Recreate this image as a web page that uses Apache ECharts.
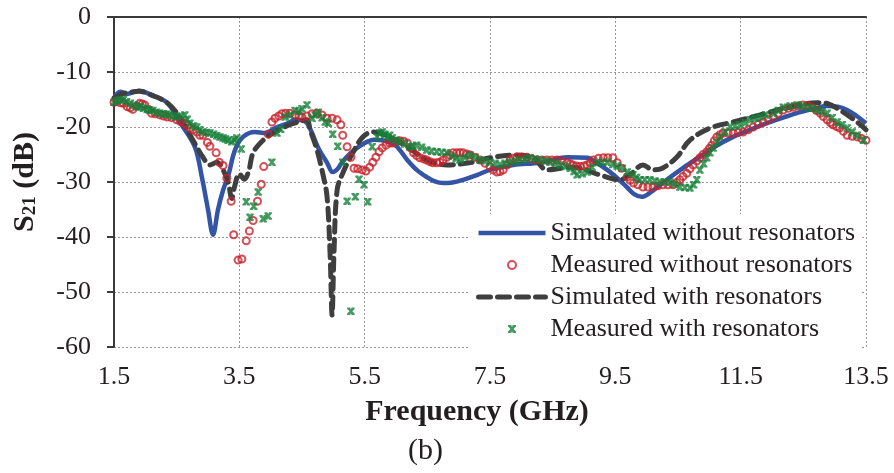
<!DOCTYPE html>
<html>
<head>
<meta charset="utf-8">
<script src="https://cdn.jsdelivr.net/npm/echarts@6/dist/echarts.min.js"></script>
<style>
  html, body { margin: 0; padding: 0; background: #fff; }
  #chart { width: 894px; height: 473px; }
</style>
</head>
<body>
<div id="chart"></div>
<script>
// S21 transmission data (frequency in GHz, magnitude in dB)
const simNoResFreq = [1.5,1.6,1.7,1.9,2.1,2.35,2.55,2.79,2.9,3.0,3.08,3.16,3.24,3.32,3.43,3.56,3.75,3.91,4.07,4.28,4.39,4.5,4.58,4.66,4.76,4.9,4.99,5.07,5.14,5.3,5.5,5.65,5.78,5.99,6.18,6.33,6.49,6.62,6.75,6.9,7.07,7.3,7.5,7.87,8.3,8.73,9.05,9.2,9.37,9.55,9.69,9.8,9.92,10.05,10.32,10.6,10.85,11.1,11.38,11.65,11.92,12.2,12.45,12.7,12.88,13.05,13.2,13.35,13.5];
const simNoResDb = [-14.7,-13.6,-14.0,-13.4,-14.2,-15.6,-19.1,-23.6,-29.0,-35.0,-39.6,-35.0,-31.5,-29.0,-24.2,-21.8,-20.9,-21.1,-20.2,-19.3,-18.7,-18.8,-19.3,-21.1,-23.8,-26.5,-28.2,-27.6,-26.4,-24.5,-22.9,-22.3,-22.4,-23.3,-26.0,-27.8,-29.1,-29.9,-30.2,-30.1,-29.6,-28.7,-27.8,-26.9,-26.5,-25.5,-25.6,-26.5,-27.8,-29.5,-31.0,-32.2,-32.7,-32.0,-29.6,-27.3,-25.4,-23.5,-21.8,-20.5,-19.3,-18.2,-17.3,-16.6,-16.2,-16.3,-16.9,-18.0,-19.3];

const measNoResFreq = [1.5,1.55,1.6,1.65,1.71,1.76,1.8,1.86,1.91,1.95,1.99,2.05,2.1,2.16,2.23,2.29,2.35,2.42,2.5,2.56,2.63,2.67,2.71,2.76,2.82,2.87,2.92,2.99,3.03,3.13,3.18,3.24,3.3,3.37,3.41,3.48,3.54,3.61,3.66,3.72,3.79,3.85,3.89,3.96,4.02,4.07,4.13,4.18,4.24,4.31,4.39,4.45,4.5,4.58,4.66,4.74,4.82,4.9,4.98,5.06,5.12,5.15,5.22,5.28,5.33,5.39,5.46,5.52,5.58,5.63,5.68,5.73,5.78,5.84,5.9,5.95,6.01,6.06,6.12,6.18,6.23,6.28,6.33,6.38,6.44,6.49,6.54,6.59,6.65,6.7,6.75,6.81,6.86,6.91,6.97,7.02,7.07,7.13,7.18,7.26,7.34,7.42,7.5,7.55,7.61,7.66,7.71,7.77,7.82,7.87,7.93,8.01,8.09,8.17,8.25,8.33,8.41,8.49,8.57,8.65,8.73,8.78,8.82,8.88,8.94,9.0,9.05,9.1,9.15,9.23,9.31,9.38,9.46,9.53,9.6,9.69,9.74,9.79,9.86,9.94,10.02,10.1,10.18,10.26,10.34,10.42,10.48,10.53,10.58,10.64,10.69,10.74,10.8,10.85,10.9,10.96,11.0,11.04,11.08,11.12,11.17,11.22,11.3,11.38,11.46,11.54,11.62,11.7,11.78,11.86,11.94,12.02,12.1,12.18,12.26,12.34,12.42,12.49,12.57,12.65,12.71,12.77,12.82,12.88,12.93,12.97,13.03,13.08,13.14,13.2,13.28,13.36,13.43,13.5];
const measNoResDb = [-15.5,-15.3,-15.6,-15.7,-16.3,-16.5,-16.8,-16.2,-15.7,-15.8,-16.0,-16.8,-17.5,-17.6,-17.8,-18.0,-18.2,-18.3,-18.7,-19.0,-19.3,-19.7,-20.2,-20.5,-20.9,-21.5,-21.5,-22.8,-23.5,-24.7,-26.4,-27.0,-29.3,-33.5,-39.6,-44.2,-44.0,-40.7,-38.9,-37.0,-33.5,-30.4,-27.2,-21.3,-19.1,-18.4,-18.0,-17.6,-17.5,-17.5,-17.8,-17.9,-18.2,-18.0,-17.6,-17.5,-17.8,-18.4,-18.4,-18.7,-19.6,-21.5,-23.6,-25.5,-27.5,-27.6,-27.8,-28.0,-27.3,-26.4,-25.5,-24.5,-23.8,-23.3,-22.9,-22.9,-22.6,-22.5,-22.6,-22.9,-23.8,-24.7,-25.2,-25.6,-25.8,-26.0,-26.3,-26.5,-26.5,-26.4,-26.0,-25.5,-25.1,-24.7,-24.7,-24.7,-24.7,-24.9,-25.1,-25.5,-26.0,-26.6,-27.2,-27.8,-28.2,-28.1,-27.8,-26.9,-26.0,-25.7,-25.5,-25.5,-25.5,-25.8,-26.0,-26.0,-26.0,-26.0,-26.0,-26.2,-26.5,-26.7,-26.9,-27.1,-27.2,-27.1,-26.9,-26.5,-26.0,-25.7,-25.6,-25.6,-25.6,-26.5,-27.5,-29.1,-29.7,-30.2,-30.5,-30.9,-30.9,-30.9,-30.7,-30.5,-30.5,-30.5,-30.1,-29.6,-29.0,-28.4,-27.6,-26.9,-26.2,-25.6,-25.0,-24.5,-23.9,-23.3,-22.5,-21.8,-21.4,-21.1,-21.1,-21.1,-21.0,-20.9,-20.5,-20.0,-19.5,-19.1,-18.6,-18.2,-17.5,-16.9,-16.6,-16.4,-16.2,-16.0,-16.1,-16.5,-17.0,-17.5,-18.1,-18.7,-19.2,-19.6,-19.9,-20.2,-20.8,-21.5,-21.7,-21.8,-22.1,-22.4];

const simResFreq = [1.5,1.65,1.8,1.9,2.1,2.35,2.55,2.76,2.92,3.03,3.14,3.24,3.32,3.38,3.42,3.5,3.58,3.65,3.72,3.88,4.04,4.3,4.5,4.58,4.63,4.74,4.83,4.9,4.95,4.98,5.01,5.06,5.15,5.31,5.47,5.63,5.8,6.18,6.49,6.81,7.23,7.5,7.87,8.19,8.41,8.82,9.25,9.57,9.75,9.94,10.1,10.25,10.48,10.69,11.01,11.38,11.81,12.24,12.72,12.9,13.08,13.36,13.5];
const simResDb = [-14.7,-13.9,-13.6,-13.5,-14.2,-15.6,-18.2,-22.4,-25.5,-26.9,-26.4,-27.8,-30.0,-33.0,-31.0,-28.5,-29.5,-28.0,-24.7,-22.4,-21.1,-19.6,-18.9,-18.7,-20.5,-24.2,-28.4,-32.7,-43.6,-54.2,-43.0,-31.5,-28.4,-24.7,-21.8,-20.9,-21.3,-23.6,-26.0,-26.9,-26.4,-25.6,-25.1,-25.6,-27.8,-27.3,-28.7,-29.6,-28.5,-26.9,-27.8,-27.5,-25.5,-22.4,-20.2,-19.1,-17.8,-16.5,-15.6,-15.8,-16.9,-19.1,-20.5];

const measResFreq = [1.5,1.55,1.6,1.65,1.7,1.76,1.82,1.87,1.92,1.97,2.03,2.07,2.12,2.18,2.23,2.29,2.34,2.39,2.45,2.5,2.57,2.63,2.67,2.71,2.77,2.82,2.87,2.92,2.98,3.03,3.09,3.14,3.19,3.24,3.28,3.32,3.38,3.42,3.46,3.53,3.61,3.67,3.73,3.8,3.88,3.96,4.02,4.1,4.16,4.23,4.31,4.39,4.45,4.5,4.58,4.66,4.71,4.76,4.82,4.87,4.92,4.99,5.07,5.15,5.22,5.28,5.35,5.41,5.49,5.55,5.62,5.7,5.74,5.78,5.82,5.86,5.9,5.94,6.0,6.06,6.14,6.22,6.27,6.33,6.41,6.49,6.57,6.65,6.73,6.81,6.9,6.96,7.02,7.1,7.18,7.26,7.34,7.42,7.5,7.58,7.66,7.74,7.82,7.9,7.98,8.06,8.14,8.22,8.3,8.38,8.46,8.54,8.62,8.7,8.78,8.84,8.89,8.97,9.05,9.13,9.21,9.29,9.37,9.46,9.53,9.61,9.69,9.78,9.84,9.89,9.97,10.05,10.13,10.21,10.29,10.37,10.45,10.53,10.61,10.69,10.75,10.8,10.85,10.91,10.96,11.01,11.06,11.12,11.17,11.25,11.33,11.41,11.49,11.57,11.65,11.73,11.81,11.9,12.02,12.1,12.18,12.29,12.4,12.48,12.56,12.64,12.72,12.8,12.88,12.96,13.04,13.12,13.2,13.28,13.36,13.46];
const measResDb = [-15.5,-15.2,-15.1,-15.0,-15.4,-15.7,-16.0,-16.3,-16.3,-16.6,-16.8,-16.9,-17.0,-17.3,-17.5,-17.6,-17.7,-17.8,-18.0,-18.2,-18.0,-17.8,-18.6,-19.3,-19.8,-20.0,-20.5,-20.9,-21.0,-21.1,-21.3,-21.6,-21.8,-22.0,-22.2,-22.4,-22.7,-22.3,-22.0,-24.0,-33.6,-36.4,-34.4,-31.8,-36.7,-36.2,-26.4,-21.1,-20.4,-18.2,-17.8,-17.0,-17.2,-16.7,-16.0,-18.4,-17.8,-17.3,-18.3,-19.1,-19.3,-21.3,-23.5,-26.4,-33.5,-53.5,-32.7,-29.5,-30.5,-33.6,-23.6,-21.8,-21.1,-20.9,-21.3,-21.8,-21.5,-22.0,-22.4,-22.7,-23.1,-23.6,-23.5,-23.3,-23.7,-24.2,-24.4,-24.5,-24.6,-24.7,-25.3,-25.7,-26.0,-25.5,-25.1,-25.5,-26.0,-26.2,-26.4,-26.6,-26.9,-26.6,-26.4,-26.2,-26.0,-25.8,-25.6,-25.8,-26.0,-26.2,-26.4,-26.6,-26.9,-27.2,-27.5,-28.1,-28.7,-28.5,-28.2,-27.3,-26.5,-26.4,-26.4,-26.8,-27.1,-27.5,-28.2,-28.7,-29.2,-29.6,-29.6,-29.6,-29.8,-30.0,-30.0,-30.0,-30.4,-30.9,-31.0,-31.1,-30.5,-29.6,-27.8,-26.7,-25.6,-24.7,-23.8,-22.8,-21.8,-20.9,-20.0,-19.8,-19.6,-19.2,-18.7,-18.4,-18.2,-17.8,-17.5,-17.0,-16.4,-16.2,-16.0,-16.2,-16.4,-16.6,-16.9,-17.2,-17.5,-18.3,-19.1,-19.6,-20.2,-20.9,-21.5,-22.4];

const seriesNames = [
  'Simulated without resonators',
  'Measured without resonators',
  'Simulated with resonators',
  'Measured with resonators'
];

const FONT = "'Liberation Serif', 'Times New Roman', serif";
const TEXT = '#231f20';
const BLUE = '#3454a6';
const RED = '#c8222b';
const DARK = '#3f3f3f';
const GREEN = '#17803a';
const DASH = [12, 7];

function pairs(xs, ys) { return xs.map((x, i) => [x, ys[i]]); }

const chart = echarts.init(document.getElementById('chart'), null, { renderer: 'canvas' });

chart.setOption({
  animation: false,
  backgroundColor: '#fff',
  grid: { left: 114, right: 28, top: 17, bottom: 126, containLabel: false },
  xAxis: [
    {
      type: 'value', min: 1.5, max: 13.5, interval: 2, position: 'bottom',
      axisLine: { show: false, onZero: false },
      axisTick: { show: false },
      axisLabel: {
        fontFamily: FONT, fontSize: 26, color: TEXT, margin: 17,
        formatter: v => v.toFixed(1)
      },
      splitLine: { show: true, lineStyle: { color: '#999', width: 1, type: [2, 2] } },
      name: 'Frequency (GHz)', nameLocation: 'middle', nameGap: 50,
      nameTextStyle: { fontFamily: FONT, fontSize: 30, fontWeight: 'bold', color: TEXT, padding: [0, 26, 0, 0] }
    },
    {
      type: 'value', min: 1.5, max: 13.5, position: 'top',
      axisLine: { show: true, onZero: false, lineStyle: { color: '#3a3a3a', width: 2 } },
      axisTick: { show: false }, axisLabel: { show: false }, splitLine: { show: false }
    }
  ],
  yAxis: {
    type: 'value', min: -60, max: 0, interval: 10,
    axisLine: { show: true, onZero: false, lineStyle: { color: '#3a3a3a', width: 2 } },
    axisTick: { show: true, inside: false, length: 7, lineStyle: { color: '#3a3a3a', width: 2 } },
    axisLabel: { fontFamily: FONT, fontSize: 26, color: TEXT, margin: 23 },
    splitLine: { show: true, lineStyle: { color: '#999', width: 1, type: [2, 2] } },
    name: '{b|S}{s|21}{b| (dB)}', nameLocation: 'middle', nameGap: 74, nameRotate: 90,
    nameTextStyle: {
      rich: {
        b: { fontFamily: FONT, fontSize: 30, fontWeight: 'bold', color: TEXT, lineHeight: 32, verticalAlign: 'bottom' },
        s: { fontFamily: FONT, fontSize: 19, fontWeight: 'bold', color: TEXT, lineHeight: 16, verticalAlign: 'bottom' }
      }
    }
  },
  legend: {
    orient: 'vertical', left: 470, top: 214,
    itemWidth: 67, itemHeight: 8, itemGap: 6,
    padding: [6, 6, 6, 6], backgroundColor: '#fff',
    textStyle: { fontFamily: FONT, fontSize: 26, color: TEXT },
    data: [
      { name: seriesNames[0], itemStyle: { opacity: 0 }, lineStyle: { color: BLUE, width: 4.5 } },
      { name: seriesNames[1] },
      { name: seriesNames[2], itemStyle: { opacity: 0 }, lineStyle: { color: DARK, width: 5, type: DASH, cap: 'round' } },
      { name: seriesNames[3] }
    ]
  },
  graphic: [
    { type: 'text', left: 408, top: 436, style: { text: '(b)', font: '30px ' + FONT, fill: TEXT } }
  ],
  series: [
    {
      name: seriesNames[0], type: 'line', xAxisIndex: 0, smooth: 0.35, symbol: 'none', z: 3,
      lineStyle: { color: BLUE, width: 4.5 },
      itemStyle: { color: BLUE },
      data: pairs(simNoResFreq, simNoResDb)
    },
    {
      name: seriesNames[1], type: 'scatter', xAxisIndex: 0, symbol: 'circle', symbolSize: 7, z: 4,
      itemStyle: { color: 'rgba(255,255,255,0)', borderColor: RED, borderWidth: 2 },
      data: pairs(measNoResFreq, measNoResDb)
    },
    {
      name: seriesNames[2], type: 'line', xAxisIndex: 0, smooth: 0.35, symbol: 'none', z: 3,
      lineStyle: { color: DARK, width: 5, type: DASH, cap: 'round' },
      itemStyle: { color: DARK },
      data: pairs(simResFreq, simResDb)
    },
    {
      name: seriesNames[3], type: 'scatter', xAxisIndex: 0, z: 5,
      symbol: 'path://M0,0H4L5,2.2L6,0H10V2L7,5L10,8V10H6L5,7.8L4,10H0V8L3,5L0,2Z',
      symbolSize: 7.5,
      itemStyle: { color: GREEN },
      data: pairs(measResFreq, measResDb)
    }
  ]
});
</script>
</body>
</html>
